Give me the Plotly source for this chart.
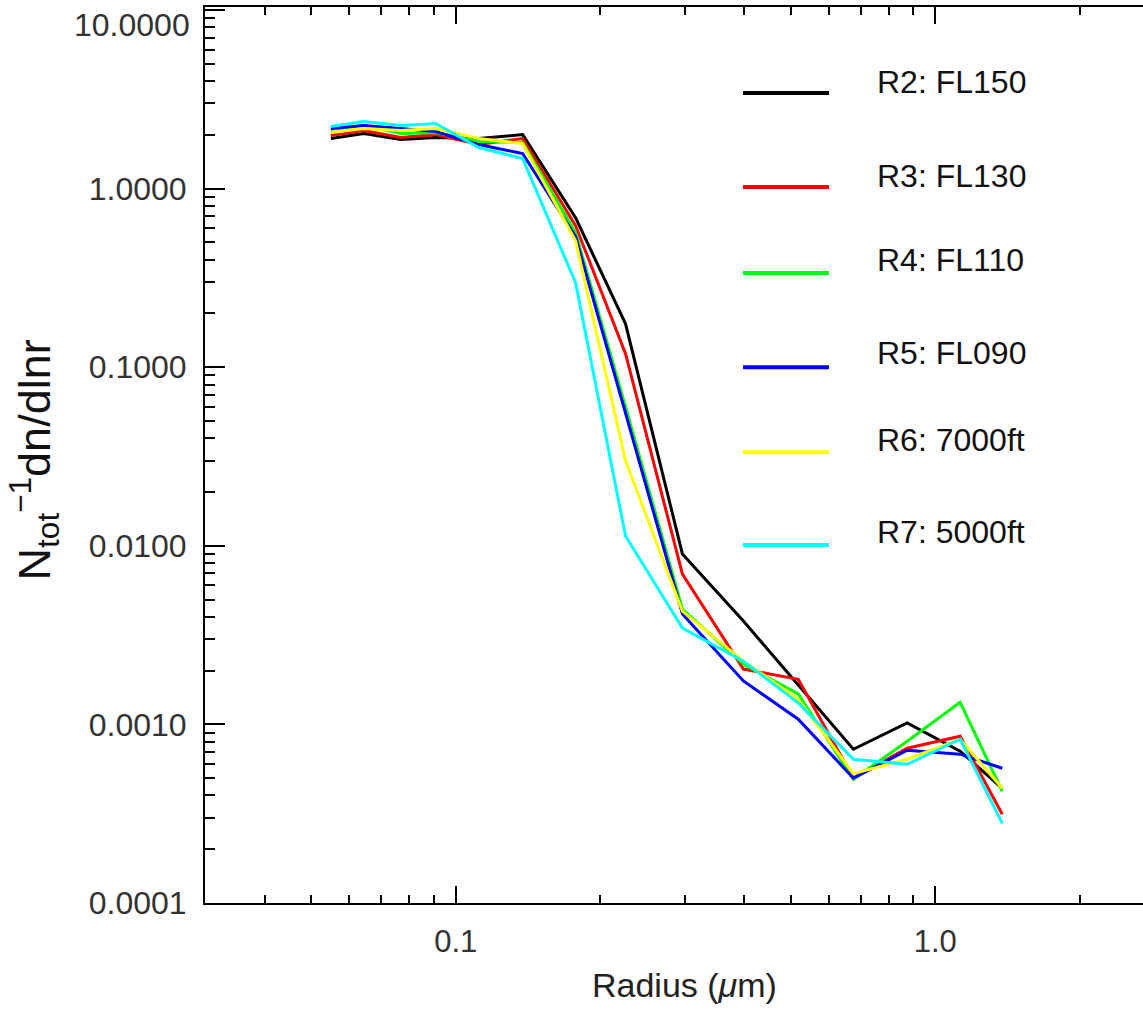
import plotly.graph_objects as go

# radius (um)
radius = [0.0549, 0.0643, 0.0768, 0.0908, 0.1117, 0.1379, 0.1778, 0.226, 0.297, 0.398, 0.518, 0.675, 0.874, 1.127, 1.38]

r2_fl150 = [1.906, 2.034, 1.882, 1.931, 1.906, 2.007, 0.688, 0.175, 0.00900, 0.00379, 0.00166, 0.000726, 0.00102, 0.000708, 0.000439]
r3_fl130 = [1.982, 2.114, 1.931, 2.007, 1.764, 1.906, 0.620, 0.119, 0.00695, 0.00204, 0.00179, 0.000500, 0.000735, 0.000859, 0.000314]
r4_fl110 = [2.141, 2.255, 2.034, 2.060, 1.834, 1.811, 0.567, 0.060, 0.00442, 0.00218, 0.00148, 0.000493, 0.000805, 0.00133, 0.000422]
r5_fl090 = [2.169, 2.255, 2.169, 2.087, 1.764, 1.571, 0.538, 0.0555, 0.00415, 0.00175, 0.00107, 0.000500, 0.000717, 0.000681, 0.000568]
r6_7000ft = [2.060, 2.169, 2.114, 2.169, 1.906, 1.787, 0.511, 0.0299, 0.00431, 0.00226, 0.00138, 0.000530, 0.000638, 0.000826, 0.000439]
r7_5000ft = [2.226, 2.374, 2.255, 2.314, 1.697, 1.473, 0.297, 0.01135, 0.00346, 0.00226, 0.00132, 0.000638, 0.000598, 0.000826, 0.000279]

series_names = ["R2: FL150", "R3: FL130", "R4: FL110", "R5: FL090", "R6: 7000ft", "R7: 5000ft"]
series_values = [r2_fl150, r3_fl130, r4_fl110, r5_fl090, r6_7000ft, r7_5000ft]
series_colors = ["#000000", "#FF0000", "#00FF00", "#0000FF", "#FFFF00", "#00FFFF"]

y_tickvals = [0.0001, 0.001, 0.01, 0.1, 1.0, 10.0]
y_ticktext = ["0.0001", "0.0010", "0.0100", "0.1000", "1.0000", ""]
y_top_label = "10.0000"
x_tickvals = [0.1, 1.0]
x_ticktext = ["0.1", "1.0"]

x_minor = [m * d for d in (0.01, 0.1, 1.0) for m in range(2, 10)]
x_minor = [v for v in x_minor if 0.03 <= v <= 2.7]
y_minor = [m * d for d in (0.0001, 0.001, 0.01, 0.1, 1.0) for m in range(2, 10)]

FONT = "Liberation Sans, Arial, sans-serif"

fig = go.Figure()
for name, vals, col in zip(series_names, series_values, series_colors):
    fig.add_trace(go.Scatter(x=radius, y=vals, mode="lines", name=name,
                             line=dict(color=col, width=3), showlegend=False))

# legend drawn as line samples + labels
leg_line_y = [0.904, 0.799, 0.703, 0.598, 0.503, 0.3996]
leg_text_y = [0.9163, 0.8114, 0.7176, 0.6138, 0.5167, 0.4141]
annotations = []
shapes = []
for name, col, ly, ty in zip(series_names, series_colors, leg_line_y, leg_text_y):
    shapes.append(dict(type="line", xref="paper", yref="paper", x0=0.5736, x1=0.6652,
                       y0=ly, y1=ly, line=dict(color=col, width=4)))
    annotations.append(dict(xref="paper", yref="paper", x=0.7143, y=ty, text=name,
                            showarrow=False, xanchor="left", yanchor="middle",
                            font=dict(family=FONT, size=32, color="#111")))

# top y label (sits slightly below its tick, as in the original)
annotations.append(dict(xref="paper", yref="paper", x=-0.0139, y=0.980,
                        text=y_top_label, showarrow=False,
                        xanchor="right", yanchor="middle",
                        font=dict(family=FONT, size=32, color="#333")))

annotations.append(dict(xref="paper", yref="paper", x=0.5107, y=-0.0915,
                        text="Radius (<i>μ</i>m)", showarrow=False,
                        xanchor="center", yanchor="middle",
                        font=dict(family=FONT, size=34, color="#222")))
annotations.append(dict(xref="paper", yref="paper", x=-0.1823, y=0.494,
                        text="N<sub>tot</sub><sup>−1</sup>dn/dlnr", textangle=-90,
                        showarrow=False, xanchor="center", yanchor="middle",
                        font=dict(family=FONT, size=45, color="#111")))

fig.update_layout(
    width=1143, height=1012,
    margin=dict(l=205, r=0, t=7, b=109),
    paper_bgcolor="white", plot_bgcolor="white",
    shapes=shapes, annotations=annotations,
    showlegend=False,
)
fig.update_xaxes(
    type="log", range=[-1.5229, 0.4333],
    showgrid=False, zeroline=False,
    showline=True, linecolor="black", linewidth=2, mirror="ticks",
    ticks="inside", ticklen=17, tickwidth=2, tickcolor="black",
    tickvals=x_tickvals, ticktext=x_ticktext,
    tickfont=dict(family=FONT, size=31, color="#333"),
    ticklabelstandoff=10,
    minor=dict(tickvals=x_minor, ticks="inside", ticklen=8, tickwidth=2, tickcolor="black"),
)
fig.update_yaxes(
    type="log", range=[-4, 1.0168],
    showgrid=False, zeroline=False,
    showline=True, linecolor="black", linewidth=2, mirror=False,
    ticks="inside", ticklen=20, tickwidth=2, tickcolor="black",
    tickvals=y_tickvals, ticktext=y_ticktext,
    tickfont=dict(family=FONT, size=32, color="#333"),
    ticklabelstandoff=10,
    minor=dict(tickvals=y_minor, ticks="inside", ticklen=10, tickwidth=2, tickcolor="black"),
)

fig.write_html("out.html")
